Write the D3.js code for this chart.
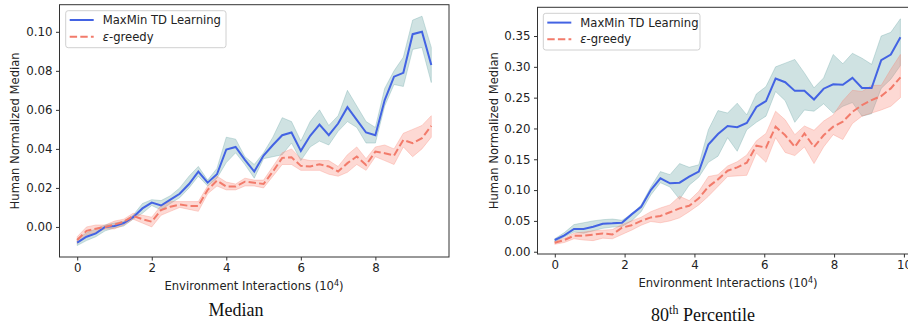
<!DOCTYPE html>
<html>
<head>
<meta charset="utf-8">
<script src="https://cdn.jsdelivr.net/npm/d3@7"></script>
<style>
body, html {
    margin: 0;
    background: #fff;
}
svg text {
    font-family: "DejaVu Sans", sans-serif;
    fill: #222;
}
.title {
    font-family: "Liberation Serif", "DejaVu Serif", serif !important;
    fill: #111;
}
</style>
</head>
<body>
<div id="chart"></div>
<script>

// left panel: median, x step 0.25
var medX = d3.range(39).map(function(i) { return i * 0.25; });
var medMaxMin = [-0.008, -0.005, -0.0033, 0.0, 0.0005, 0.002, 0.005, 0.0095, 0.0125, 0.011,
  0.014, 0.017, 0.022, 0.0284, 0.0227, 0.027, 0.0397, 0.041, 0.0344, 0.0284,
  0.0366, 0.042, 0.047, 0.0484, 0.039, 0.0467, 0.0525, 0.047, 0.053, 0.0614,
  0.0549, 0.0484, 0.047, 0.065, 0.077, 0.079, 0.0988, 0.100, 0.083];
var medMaxMinHi = [-0.006, -0.003, -0.001, 0.001, 0.002, 0.003, 0.006, 0.012, 0.014, 0.0135,
  0.016, 0.020, 0.026, 0.031, 0.024, 0.030, 0.046, 0.045, 0.036, 0.032,
  0.038, 0.046, 0.056, 0.054, 0.044, 0.054, 0.060, 0.052, 0.057, 0.070,
  0.062, 0.054, 0.051, 0.071, 0.080, 0.087, 0.106, 0.108, 0.092];
var medMaxMinLo = [-0.0095, -0.007, -0.005, -0.002, -0.0005, 0.0005, 0.004, 0.007, 0.011, 0.0087,
  0.012, 0.015, 0.020, 0.026, 0.021, 0.025, 0.033, 0.038, 0.032, 0.025,
  0.035, 0.036, 0.037, 0.043, 0.034, 0.041, 0.044, 0.042, 0.049, 0.054,
  0.051, 0.043, 0.043, 0.062, 0.073, 0.072, 0.091, 0.092, 0.074];
var medGreedy = [-0.0067, -0.002, -0.0009, 0.0, 0.0012, 0.0027, 0.0056, 0.004, 0.0027, 0.0087,
  0.0104, 0.0115, 0.0108, 0.0108, 0.019, 0.0238, 0.0207, 0.0207, 0.0232, 0.0227,
  0.022, 0.0284, 0.0354, 0.0357, 0.0313, 0.031, 0.0321, 0.031, 0.0284, 0.0327,
  0.0361, 0.0318, 0.0386, 0.0378, 0.0366, 0.0446, 0.0429, 0.0455, 0.0518];
var medGreedyHi = [-0.005, 0.0, 0.001, 0.001, 0.003, 0.004, 0.007, 0.006, 0.005, 0.011,
  0.013, 0.013, 0.013, 0.013, 0.021, 0.026, 0.023, 0.022, 0.025, 0.024,
  0.024, 0.031, 0.038, 0.040, 0.035, 0.034, 0.034, 0.034, 0.031, 0.037,
  0.041, 0.035, 0.041, 0.042, 0.040, 0.048, 0.050, 0.052, 0.057];
var medGreedyLo = [-0.0085, -0.004, -0.003, -0.001, -0.001, 0.001, 0.004, 0.002, 0.0, 0.006,
  0.008, 0.010, 0.009, 0.008, 0.017, 0.021, 0.019, 0.019, 0.021, 0.021,
  0.020, 0.026, 0.032, 0.032, 0.029, 0.029, 0.029, 0.027, 0.026, 0.028,
  0.032, 0.029, 0.036, 0.034, 0.032, 0.041, 0.036, 0.040, 0.046];
var medYTicks = [0.00, 0.02, 0.04, 0.06, 0.08, 0.10];

// right panel: 80th percentile, x step 0.275
var pctX = d3.range(37).map(function(i) { return i * 0.275; });
var pctMaxMin = [0.019, 0.0265, 0.037, 0.037, 0.0406, 0.0454, 0.046, 0.047, 0.0606, 0.073,
  0.100, 0.119, 0.111, 0.112, 0.1217, 0.130, 0.174, 0.191, 0.204, 0.202,
  0.209, 0.235, 0.2445, 0.281, 0.275, 0.261, 0.261, 0.247, 0.2645, 0.2716,
  0.271, 0.282, 0.2656, 0.2656, 0.311, 0.320, 0.348];
var pctMaxMinHi = [0.021, 0.031, 0.044, 0.047, 0.050, 0.052, 0.053, 0.051, 0.061, 0.076,
  0.105, 0.130, 0.125, 0.143, 0.137, 0.141, 0.198, 0.229, 0.225, 0.241,
  0.222, 0.256, 0.268, 0.300, 0.306, 0.312, 0.290, 0.266, 0.282, 0.320,
  0.305, 0.322, 0.314, 0.304, 0.350, 0.356, 0.378];
var pctMaxMinLo = [0.016, 0.024, 0.032, 0.030, 0.034, 0.038, 0.040, 0.041, 0.050, 0.065,
  0.092, 0.112, 0.105, 0.085, 0.108, 0.121, 0.145, 0.155, 0.185, 0.163,
  0.198, 0.210, 0.220, 0.260, 0.245, 0.210, 0.230, 0.228, 0.240, 0.225,
  0.236, 0.242, 0.220, 0.224, 0.265, 0.280, 0.302];
var pctGreedy = [0.0146, 0.019, 0.026, 0.026, 0.0276, 0.0297, 0.028, 0.039, 0.043, 0.050,
  0.0557, 0.058, 0.064, 0.0703, 0.0746, 0.0866, 0.1055, 0.1174, 0.1314, 0.1369,
  0.1444, 0.172, 0.169, 0.2029, 0.189, 0.170, 0.192, 0.170, 0.189, 0.2029,
  0.211, 0.227, 0.238, 0.246, 0.2526, 0.265, 0.283];
var pctGreedyHi = [0.017, 0.022, 0.030, 0.032, 0.034, 0.035, 0.036, 0.044, 0.050, 0.056,
  0.065, 0.071, 0.076, 0.090, 0.083, 0.098, 0.122, 0.125, 0.139, 0.146,
  0.157, 0.180, 0.192, 0.228, 0.214, 0.190, 0.204, 0.197, 0.212, 0.222,
  0.245, 0.262, 0.260, 0.270, 0.270, 0.296, 0.320];
var pctGreedyLo = [0.012, 0.015, 0.021, 0.019, 0.018, 0.022, 0.021, 0.028, 0.035, 0.043,
  0.049, 0.047, 0.050, 0.055, 0.065, 0.076, 0.090, 0.106, 0.122, 0.123,
  0.124, 0.160, 0.145, 0.185, 0.161, 0.156, 0.170, 0.143, 0.170, 0.190,
  0.182, 0.208, 0.220, 0.225, 0.230, 0.236, 0.250];
var pctYTicks = [0.00, 0.05, 0.10, 0.15, 0.20, 0.25, 0.30, 0.35];

var xTicks = [0, 2, 4, 6, 8, 10];
var seriesNames = ["MaxMin TD Learning", "-greedy"];

var blue = "#4363e3", salmon = "#f27b6b";
var tealBand = "#5f9ea0", pinkBand = "#fa8072";

var svg = d3.select("#chart").append("svg")
    .attr("width", 908)
    .attr("height", 329);

var panels = [
  { x: medX, a: medMaxMin, aHi: medMaxMinHi, aLo: medMaxMinLo,
    b: medGreedy, bHi: medGreedyHi, bLo: medGreedyLo,
    xDom: [-0.475, 9.975], xRange: [59.5, 449],
    yDom: [-0.0154, 0.1139], yRange: [257, 4.7], yTicks: medYTicks,
    yLabelX: 15, xLabelX: 254, xLabelY: 290, legend: [65.7, 10.7, 160.3, 37],
    title: "Median", titleX: 236, titleY: 316 },
  { x: pctX, a: pctMaxMin, aHi: pctMaxMinHi, aLo: pctMaxMinLo,
    b: pctGreedy, bHi: pctGreedyHi, bLo: pctGreedyLo,
    xDom: [-0.495, 10.395], xRange: [537.5, 917.7],
    yDom: [-0.0037, 0.3966], yRange: [254, 7.3], yTicks: pctYTicks,
    yLabelX: 494, xLabelX: 728, xLabelY: 287, legend: [543.3, 13.3, 156.7, 36.7],
    title: "80", titleX: 703, titleY: 321 }
];

panels.forEach(function(p) {
  var x = d3.scaleLinear().domain(p.xDom).range(p.xRange);
  var y = d3.scaleLinear().domain(p.yDom).range(p.yRange);
  var g = svg.append("g");

  var area = function(hi, lo) {
    return d3.area()
      .x(function(d, i) { return x(p.x[i]); })
      .y0(function(d, i) { return y(lo[i]); })
      .y1(function(d, i) { return y(hi[i]); })(p.x);
  };
  var line = function(v) {
    return d3.line()
      .x(function(d, i) { return x(p.x[i]); })
      .y(function(d, i) { return y(v[i]); })(p.x);
  };

  g.append("path").attr("d", area(p.aHi, p.aLo))
    .attr("fill", tealBand).attr("fill-opacity", 0.3)
    .attr("stroke", tealBand).attr("stroke-opacity", 0.3).attr("stroke-width", 1);
  g.append("path").attr("d", area(p.bHi, p.bLo))
    .attr("fill", pinkBand).attr("fill-opacity", 0.3)
    .attr("stroke", pinkBand).attr("stroke-opacity", 0.3).attr("stroke-width", 1);
  g.append("path").attr("d", line(p.a))
    .attr("fill", "none").attr("stroke", blue).attr("stroke-width", 2);
  g.append("path").attr("d", line(p.b))
    .attr("fill", "none").attr("stroke", salmon).attr("stroke-width", 2)
    .attr("stroke-dasharray", "7.4,3.2");

  // frame
  g.append("rect")
    .attr("x", p.xRange[0]).attr("y", p.yRange[1])
    .attr("width", p.xRange[1] - p.xRange[0]).attr("height", p.yRange[0] - p.yRange[1])
    .attr("fill", "none").attr("stroke", "#333").attr("stroke-width", 1);

  // only ticks inside the axis limits, like matplotlib
  var xt = xTicks.filter(function(t) { return t >= p.xDom[0] && t <= p.xDom[1]; });
  var xAxis = g.append("g")
    .attr("transform", "translate(0," + p.yRange[0] + ")")
    .call(d3.axisBottom(x).tickValues(xt).tickFormat(d3.format("d")).tickSize(3.5).tickPadding(3.5));
  var yAxis = g.append("g")
    .attr("transform", "translate(" + p.xRange[0] + ",0)")
    .call(d3.axisLeft(y).tickValues(p.yTicks).tickFormat(d3.format(".2f")).tickSize(3.5).tickPadding(3.5));
  [xAxis, yAxis].forEach(function(ax) {
    ax.select(".domain").remove();
    ax.selectAll("line").attr("stroke", "#333");
    ax.selectAll("text").attr("font-size", 11.8).attr("fill", "#222")
      .attr("font-family", "DejaVu Sans, sans-serif");
  });

  // axis labels
  var xl = g.append("text")
    .attr("x", p.xLabelX)
    .attr("y", p.xLabelY)
    .attr("text-anchor", "middle").attr("font-size", 11.6);
  xl.append("tspan").text("Environment Interactions (10");
  xl.append("tspan").text("4").attr("font-size", 8).attr("dy", -4.5);
  xl.append("tspan").text(")").attr("dy", 4.5);

  g.append("text")
    .attr("transform", "translate(" + p.yLabelX + "," + (p.yRange[0] + p.yRange[1]) / 2 + ") rotate(-90)")
    .attr("text-anchor", "middle").attr("dy", "0.35em").attr("font-size", 11.6)
    .text("Human Normalized Median");

  // legend
  var L = p.legend;
  var lg = g.append("g").attr("transform", "translate(" + L[0] + "," + L[1] + ")");
  lg.append("rect").attr("width", L[2]).attr("height", L[3]).attr("rx", 2.5)
    .attr("fill", "#fff").attr("fill-opacity", 0.8)
    .attr("stroke", "#d0d0d0").attr("stroke-width", 1);
  [[blue, null, 9.3], [salmon, "7.4,3.2", 26]].forEach(function(s, i) {
    lg.append("line").attr("x1", 4).attr("x2", 28).attr("y1", s[2]).attr("y2", s[2])
      .attr("stroke", s[0]).attr("stroke-width", 2).attr("stroke-dasharray", s[1]);
    var t = lg.append("text").attr("x", 37).attr("y", s[2] + 4.2).attr("font-size", 11.6);
    if (i === 1) t.append("tspan").attr("font-style", "italic").text("\u03b5");
    t.append("tspan").text(seriesNames[i]);
  });

  // caption under the panel
  var tt = svg.append("text").attr("class", "title")
    .attr("x", p.titleX).attr("y", p.titleY)
    .attr("text-anchor", "middle").attr("font-size", 18);
  if (p.title === "80") {
    tt.append("tspan").text("80");
    tt.append("tspan").text("th").attr("font-size", 12).attr("dy", -7);
    tt.append("tspan").text(" Percentile").attr("dy", 7);
  } else {
    tt.text(p.title);
  }
});

</script>
</body>
</html>
